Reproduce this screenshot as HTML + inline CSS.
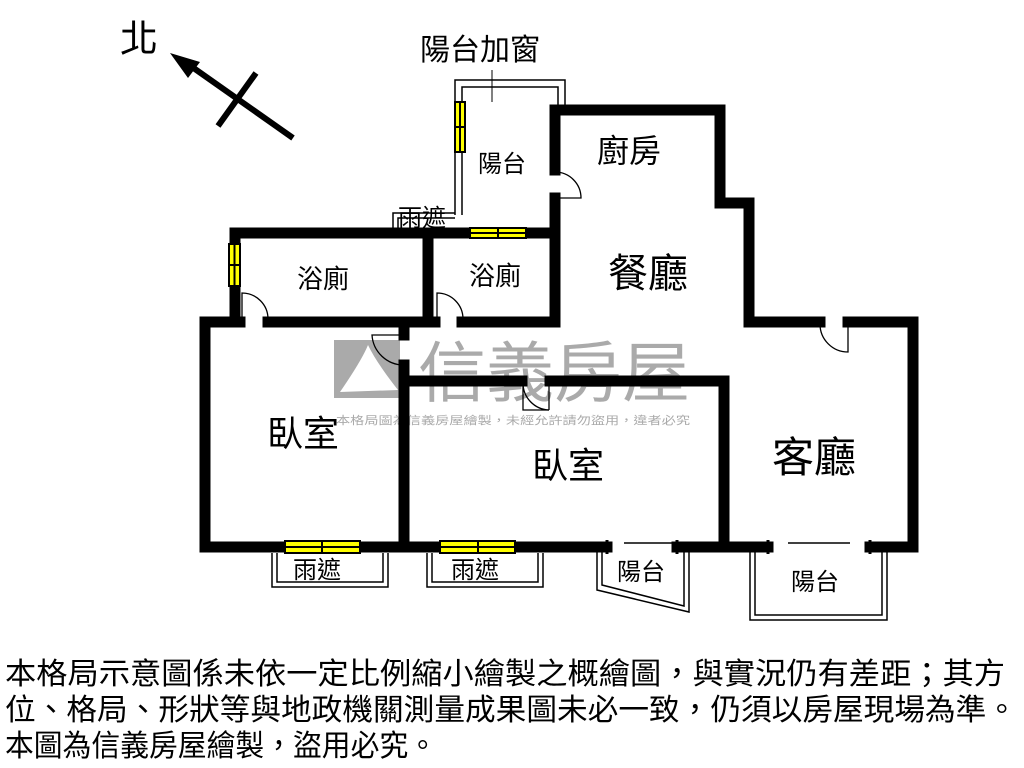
<!DOCTYPE html>
<html><head><meta charset="utf-8"><style>
html,body{margin:0;padding:0;background:#fff;width:1024px;height:768px;overflow:hidden}
svg{display:block}
text{font-family:"Liberation Sans","Noto Sans CJK TC",sans-serif;fill:#000}
</style></head><body>
<svg width="1024" height="768" viewBox="0 0 1024 768">
<!-- watermark -->
<g fill="#aaa">
<rect x="334" y="340" width="66" height="58" fill="#aaa"/>
<path d="M340 392 Q362 360 368 345 Q376 362 398 390 Z" fill="#fff"/>
<text x="418" y="396" font-size="66" style="fill:#aaa" textLength="272" lengthAdjust="spacingAndGlyphs">信義房屋</text>
<text x="336" y="424" font-size="11" style="fill:#aaa" textLength="354" lengthAdjust="spacingAndGlyphs">本格局圖為信義房屋繪製，未經允許請勿盜用，違者必究</text>
</g>
<!-- north arrow -->
<text x="120" y="52" font-size="38">北</text>
<line x1="185" y1="62" x2="293" y2="138" stroke="#000" stroke-width="6"/>
<polygon points="170,53 200,62 188,78" fill="#000"/>
<line x1="218" y1="126" x2="256" y2="73" stroke="#000" stroke-width="6"/>
<!-- balcony top -->
<text x="420" y="60" font-size="30">陽台加窗</text>
<line x1="492" y1="70" x2="492" y2="102" stroke="#000" stroke-width="1"/>
<path d="M455 215 V80 H565 V110 M462 215 V87 H558 V110" fill="none" stroke="#000" stroke-width="1.5"/>
<path d="M393 233 V213 H455 M398 233 V218 H455" fill="none" stroke="#000" stroke-width="1.5"/>
<!-- walls -->
<g fill="none" stroke="#000" stroke-width="11" stroke-linecap="square">
<path d="M555 170 V110 H720 V203 H749 V322 H820"/>
<path d="M848 322 H913 V547 H870"/>
<path d="M555 198 V322 H462"/>
<path d="M435 322 H404 V335"/>
<path d="M404 365 V547"/>
<path d="M404 381 H522"/>
<path d="M550 381 H724 V547"/>
<path d="M268 322 H404"/>
<path d="M240 322 H205 V547 H285"/>
<path d="M360 547 H440"/>
<path d="M515 547 H607"/>
<path d="M677 547 H768"/>
<path d="M235 322 V285"/>
<path d="M235 245 V233 H470"/>
<path d="M525 233 H555"/>
<path d="M428 233 V322"/>
</g>
<!-- windows -->
<g stroke="#000" stroke-width="2" fill="#ff0">
<rect x="455" y="102" width="10" height="50"/>
<line x1="460" y1="102" x2="460" y2="152"/><line x1="455" y1="127" x2="465" y2="127"/>
<rect x="229" y="244" width="11" height="42"/>
<line x1="234.5" y1="244" x2="234.5" y2="286"/><line x1="229" y1="265" x2="240" y2="265"/>
<rect x="470" y="228" width="56" height="10"/>
<line x1="470" y1="233" x2="526" y2="233"/><line x1="498" y1="228" x2="498" y2="238"/>
<rect x="285" y="541" width="75" height="12"/>
<line x1="285" y1="547" x2="360" y2="547"/><line x1="322" y1="541" x2="322" y2="553"/>
<rect x="440" y="541" width="75" height="12"/>
<line x1="440" y1="547" x2="515" y2="547"/><line x1="478" y1="541" x2="478" y2="553"/>
</g>
<!-- doors -->
<g fill="none" stroke="#000" stroke-width="1.3">
<path d="M555 172 A26 26 0 0 1 581 198 H555"/>
<path d="M242 320 V293 A26 26 0 0 1 268 319"/>
<path d="M437 320 V293 A26 26 0 0 1 463 319"/>
<path d="M404 335 H372 A32 32 0 0 0 404 365"/>
<path d="M523 383 V410 H549 M523 383"/>
<path d="M549 383 V410"/><path d="M523 383 A27 27 0 0 0 549 410" />
<path d="M848 324 V352 A28 28 0 0 1 820 324"/>
</g>
<!-- small balconies -->
<g fill="none" stroke="#000" stroke-width="1.5">
<path d="M272 553 V587 H388 V553 M277 553 V582 H383 V553"/>
<path d="M427 553 V587 H543 V553 M432 553 V582 H538 V553"/>
<path d="M597 547 V590 L689 612 V547 M602 547 V585 L684 606 V547"/>
<path d="M624 543 H672"/>
<path d="M750 547 V620 H887 V547 M755 547 V615 H882 V547"/>
<path d="M788 543 H850"/>
<line x1="607" y1="540" x2="607" y2="554" stroke-width="3"/>
<line x1="677" y1="540" x2="677" y2="554" stroke-width="3"/>
<line x1="768" y1="540" x2="768" y2="554" stroke-width="3"/>
<line x1="870" y1="540" x2="870" y2="554" stroke-width="3"/>
</g>
<!-- labels -->
<text x="478" y="172" font-size="24">陽台</text>
<text x="398" y="226" font-size="24">雨遮</text>
<text x="297" y="288" font-size="26">浴廁</text>
<text x="469" y="285" font-size="26">浴廁</text>
<text x="597" y="162" font-size="32">廚房</text>
<text x="608" y="287" font-size="40">餐廳</text>
<text x="267" y="446" font-size="36">臥室</text>
<text x="532" y="478" font-size="36">臥室</text>
<text x="772" y="472" font-size="42">客廳</text>
<text x="293" y="578" font-size="24">雨遮</text>
<text x="451" y="578" font-size="24">雨遮</text>
<text x="617" y="580" font-size="24">陽台</text>
<text x="791" y="590" font-size="24">陽台</text>
<!-- note -->
<text x="5" y="684" font-size="30" textLength="1000" lengthAdjust="spacingAndGlyphs">本格局示意圖係未依一定比例縮小繪製之概繪圖，與實況仍有差距；其方</text>
<text x="5" y="720" font-size="30" textLength="1012" lengthAdjust="spacingAndGlyphs">位、格局、形狀等與地政機關測量成果圖未必一致，仍須以房屋現場為準。</text>
<text x="5" y="756" font-size="30" textLength="432" lengthAdjust="spacingAndGlyphs">本圖為信義房屋繪製，盜用必究。</text>
</svg>
</body></html>
